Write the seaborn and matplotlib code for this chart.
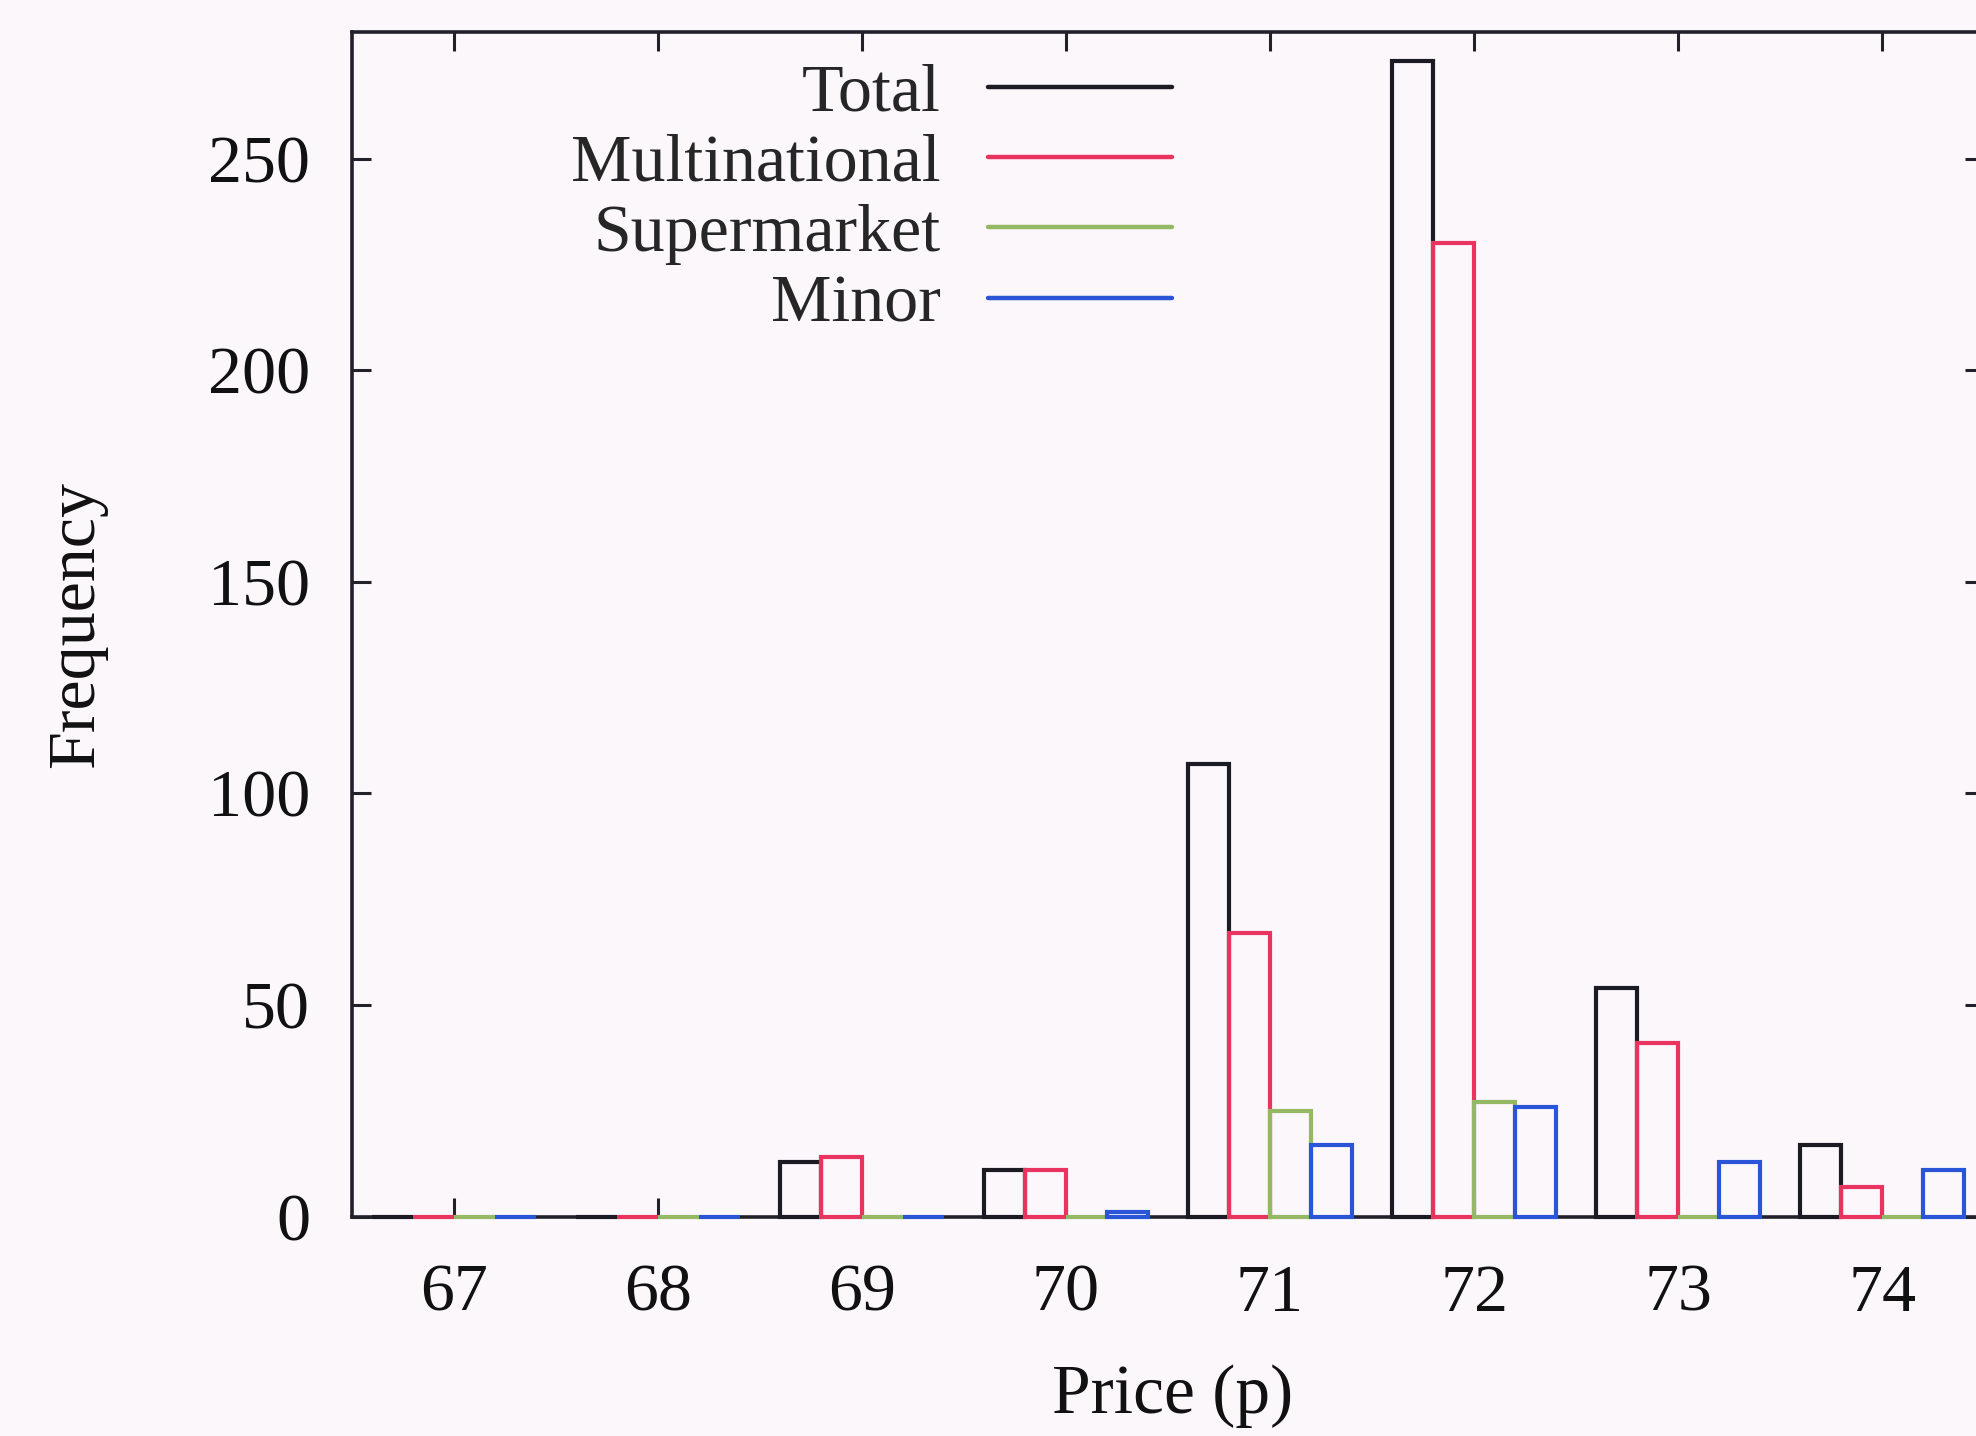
import matplotlib
matplotlib.use("Agg")
import matplotlib.pyplot as plt
from matplotlib.lines import Line2D
import seaborn as sns
import pandas as pd

# Price bins (pence) and frequency counts per retailer group
prices = ["67", "68", "69", "70", "71", "72", "73", "74"]
total = [0, 0, 13, 11, 107, 273, 54, 17]
multinational = [0, 0, 14, 11, 67, 230, 41, 7]
supermarket = [0, 0, 0, 0, 25, 27, 0, 0]
minor = [0, 0, 0, 1, 17, 26, 13, 11]

series_names = ["Total", "Multinational", "Supermarket", "Minor"]
series_colors = ["#1c1a22", "#e8345e", "#95b865", "#2a55d6"]

df = pd.DataFrame({
    "price": prices * 4,
    "freq": total + multinational + supermarket + minor,
    "series": [name for name in series_names for _ in prices],
})

sns.set_style("ticks")
plt.rcParams["font.family"] = ["Liberation Serif", "DejaVu Serif"]

bg = "#fbf7fb"
fig = plt.figure(figsize=(19.76, 14.36), dpi=100, facecolor=bg)
ax = fig.add_axes([0.1781, 0.1528, 0.826, 0.825])
ax.set_facecolor(bg)

bar_lw = 3.0
sns.barplot(
    data=df, x="price", y="freq", hue="series",
    order=prices, hue_order=series_names, palette=series_colors,
    fill=False, linewidth=bar_lw, width=0.8, gap=0, errorbar=None,
    legend=False, ax=ax,
)
for patch in ax.patches:
    patch.set_clip_on(False)
    patch.set_zorder(4)
    patch.set_linewidth(bar_lw)
    patch.set_joinstyle("miter")

ax.set_xlim(-0.5, 7.5)
ax.set_ylim(0, 280)
ax.set_yticks([0, 50, 100, 150, 200, 250])

for side in ["left", "right", "top", "bottom"]:
    ax.spines[side].set_visible(True)
    ax.spines[side].set_linewidth(2.6)
    ax.spines[side].set_color("#22202a")
    ax.spines[side].set_zorder(2)

ax.tick_params(axis="both", direction="in", length=14, width=2.2,
               colors="#22202a", labelcolor="#111111",
               top=True, right=True, labelsize=49)
ax.tick_params(axis="x", pad=34)
ax.tick_params(axis="y", pad=30)

ax.set_xlabel("Price (p)", fontsize=50, color="#111111")
ax.set_ylabel("Frequency", fontsize=49, color="#111111")
ax.xaxis.set_label_coords(0.503, -0.125)
ax.yaxis.set_label_coords(-0.150, 0.5)

handles = [Line2D([], [], color=c, lw=3.2) for c in series_colors]
ax.legend(
    handles, series_names, loc="upper right", bbox_to_anchor=(0.5025, 0.974),
    frameon=False, markerfirst=False, fontsize=49, handlelength=2.7,
    handletextpad=0.7, labelspacing=0.13, borderpad=0, borderaxespad=0,
)

fig.savefig("out.png", dpi=100, facecolor=bg)
